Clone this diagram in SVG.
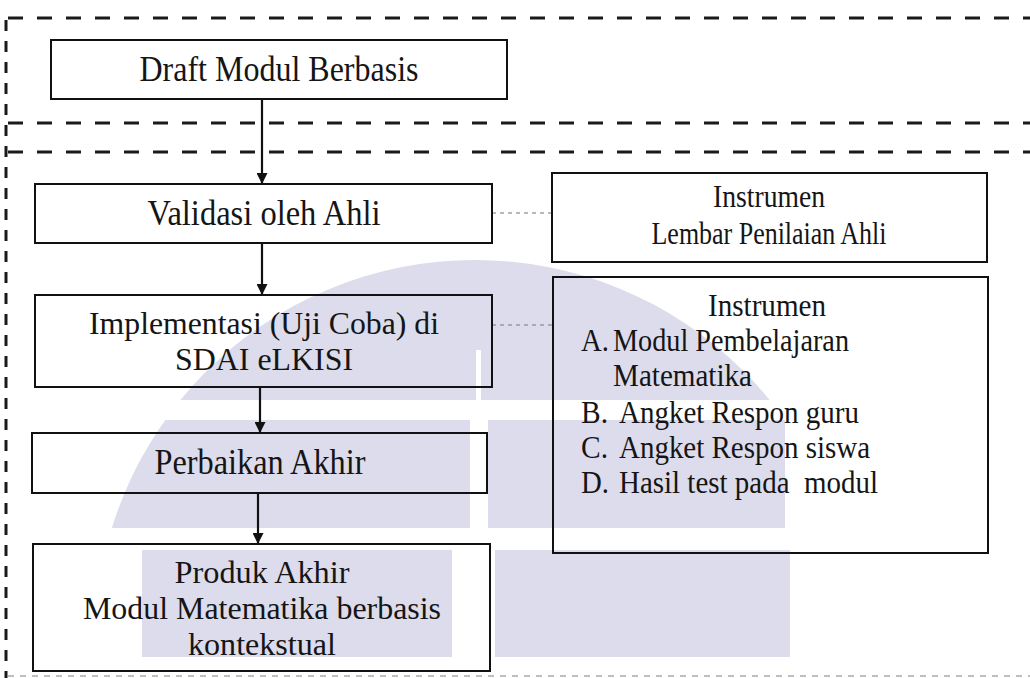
<svg xmlns="http://www.w3.org/2000/svg" width="1030" height="678" viewBox="0 0 1030 678">
<style>
.box{fill:none;stroke:#111;stroke-width:2}
.t{font-family:"Liberation Serif","Times New Roman",serif;font-size:35px;fill:#151515}
.m{font-size:32px}
.r{font-size:32px}
.r2{font-size:31.5px}
.c{text-anchor:middle}
.frame{stroke:#1a1a1a;stroke-width:3;stroke-dasharray:15 14;fill:none}
.vframe{stroke:#1a1a1a;stroke-width:3;stroke-dasharray:11 10;fill:none}
.arrow{stroke:#111;stroke-width:2.2;fill:none;marker-end:url(#ah)}
.dot{stroke:#777;stroke-width:1.2;stroke-dasharray:4 4;fill:none}
.wm{fill:#dcdcec}
</style>
<defs>
<marker id="ah" viewBox="0 0 10 10" refX="10" refY="5" markerWidth="5" markerHeight="5" markerUnits="strokeWidth" orient="auto">
<path d="M0,0 L10,5 L0,10 z" fill="#111"/>
</marker>
<clipPath id="dome"><circle cx="475" cy="640" r="380"/></clipPath>
</defs>
<rect width="1030" height="678" fill="#ffffff"/>
<g id="watermark" clip-path="url(#dome)">
<rect class="wm" x="0" y="258" width="1030" height="142"/>
<rect class="wm" x="0" y="420" width="470" height="108"/>
<rect class="wm" x="488" y="420" width="297" height="108"/>
<rect class="wm" x="142" y="550" width="310" height="107"/>
<rect class="wm" x="495" y="550" width="295" height="107"/>
<rect x="476" y="350" width="5" height="50" fill="#ffffff"/>
</g>
<g id="frame">
<line class="frame" x1="8" y1="18" x2="1030" y2="18"/>
<line class="frame" x1="8" y1="123" x2="1030" y2="123"/>
<line class="frame" x1="8" y1="152" x2="1030" y2="152"/>
<line class="vframe" x1="6" y1="20" x2="6" y2="678"/>
<line x1="8" y1="676" x2="1030" y2="676" stroke="#aaa" stroke-width="1.5" stroke-dasharray="6 6"/>
</g>
<g id="connectors">
<line class="arrow" x1="262" y1="99" x2="262" y2="184"/>
<line class="arrow" x1="262" y1="243" x2="262" y2="295"/>
<line class="arrow" x1="260" y1="387" x2="260" y2="433"/>
<line class="arrow" x1="258" y1="493" x2="258" y2="544"/>
<line class="dot" x1="492" y1="213" x2="552" y2="213"/>
<line class="dot" x1="492" y1="325" x2="553" y2="325"/>
</g>
<g id="draft">
<rect class="box" x="51" y="40" width="456" height="59" fill="#fff"/>
<text class="t c" x="279" y="81" textLength="279" lengthAdjust="spacingAndGlyphs">Draft Modul Berbasis</text>
</g>
<g id="validasi">
<rect class="box" x="35" y="184" width="457" height="59"/>
<text class="t c" x="264" y="225" textLength="233" lengthAdjust="spacingAndGlyphs">Validasi oleh Ahli</text>
</g>
<g id="implementasi">
<rect class="box" x="35" y="295" width="457" height="92"/>
<text class="t m c" x="264" y="334" textLength="350" lengthAdjust="spacingAndGlyphs">Implementasi (Uji Coba) di</text>
<text class="t m c" x="264" y="370" textLength="178" lengthAdjust="spacingAndGlyphs">SDAI eLKISI</text>
</g>
<g id="perbaikan">
<rect class="box" x="32" y="433" width="455" height="60"/>
<text class="t c" x="260" y="474" textLength="211" lengthAdjust="spacingAndGlyphs">Perbaikan Akhir</text>
</g>
<g id="produk">
<rect class="box" x="33" y="544" width="457" height="127"/>
<text class="t m c" x="262" y="583" textLength="175" lengthAdjust="spacingAndGlyphs">Produk Akhir</text>
<text class="t m c" x="262" y="619" textLength="358" lengthAdjust="spacingAndGlyphs">Modul Matematika berbasis</text>
<text class="t m c" x="262" y="655" textLength="148" lengthAdjust="spacingAndGlyphs">kontekstual</text>
</g>
<g id="instrumen1">
<rect class="box" x="552" y="173" width="435" height="89"/>
<text class="t r c" x="769" y="207" textLength="112" lengthAdjust="spacingAndGlyphs">Instrumen</text>
<text class="t r c" x="769" y="244" textLength="235" lengthAdjust="spacingAndGlyphs">Lembar Penilaian Ahli</text>
</g>
<g id="instrumen2">
<rect class="box" x="553" y="277" width="435" height="276"/>
<text class="t r2 c" x="767" y="316" textLength="118" lengthAdjust="spacingAndGlyphs">Instrumen</text>
<text class="t r2" x="581" y="351" textLength="28" lengthAdjust="spacingAndGlyphs">A.</text>
<text class="t r2" x="613" y="351" textLength="236" lengthAdjust="spacingAndGlyphs">Modul Pembelajaran</text>
<text class="t r2" x="613" y="386" textLength="139" lengthAdjust="spacingAndGlyphs">Matematika</text>
<text class="t r2" x="581" y="423" textLength="27" lengthAdjust="spacingAndGlyphs">B.</text>
<text class="t r2" x="619" y="423" textLength="240" lengthAdjust="spacingAndGlyphs">Angket Respon guru</text>
<text class="t r2" x="581" y="458" textLength="27" lengthAdjust="spacingAndGlyphs">C.</text>
<text class="t r2" x="619" y="458" textLength="251" lengthAdjust="spacingAndGlyphs">Angket Respon siswa</text>
<text class="t r2" x="581" y="493" textLength="28" lengthAdjust="spacingAndGlyphs">D.</text>
<text class="t r2" x="619" y="493" textLength="259" lengthAdjust="spacingAndGlyphs" style="white-space:pre">Hasil test pada  modul</text>
</g>
</svg>
